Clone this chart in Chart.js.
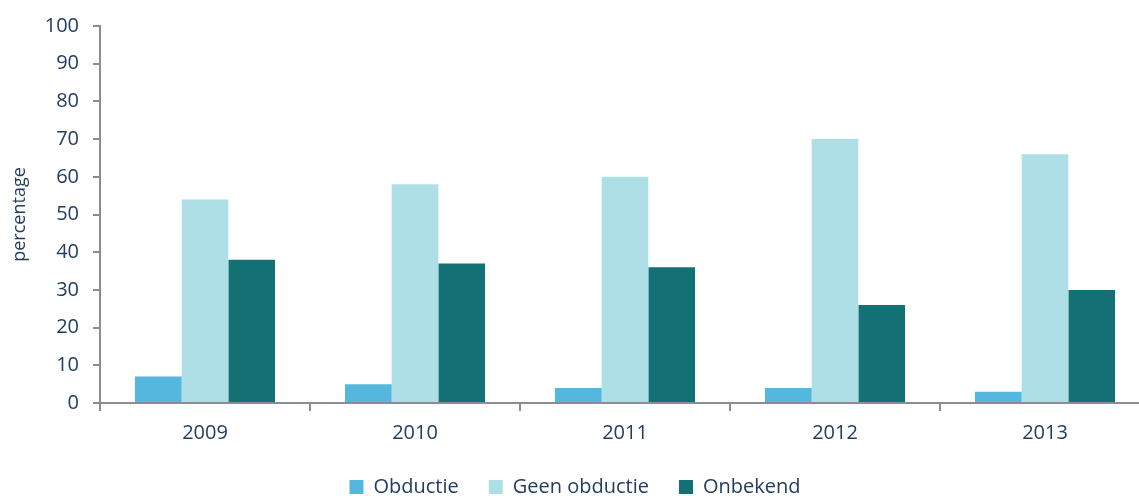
<!DOCTYPE html>
<html>
<head>
<meta charset="utf-8">
<script src="https://cdn.jsdelivr.net/npm/chart.js@4"></script>
<style>
html,body{margin:0;padding:0;overflow:hidden;background:#fff;}
#wrap{width:1150px;height:496px;}
</style>
</head>
<body>
<div id="wrap"><canvas id="c" width="1150" height="496"></canvas></div>
<script>
const categories = ['2009', '2010', '2011', '2012', '2013'];
const obductie = [7, 5, 4, 4, 3];
const geenObductie = [54, 58, 60, 70, 66];
const onbekend = [38, 37, 36, 26, 30];
const yTicks = [0, 10, 20, 30, 40, 50, 60, 70, 80, 90, 100];

const textColor = '#223d5e';
const axisColor = '#8c8c91';
const font = "'Open Sans', sans-serif";

const legendFitPlugin = {
  id: 'legendFit',
  afterInit(chart) {
    const lg = chart.legend;
    if (!lg) return;
    const orig = lg.fit;
    lg.fit = function () {
      orig.call(this);
      this.height = 49;
    };
  }
};

new Chart(document.getElementById('c'), {
  type: 'bar',
  plugins: [legendFitPlugin],
  data: {
    labels: categories,
    datasets: [
      { label: 'Obductie', data: obductie, backgroundColor: '#55b7de' },
      { label: 'Geen obductie', data: geenObductie, backgroundColor: '#aedfe6' },
      { label: 'Onbekend', data: onbekend, backgroundColor: '#137176' }
    ]
  },
  options: {
    responsive: false,
    animation: false,
    layout: { padding: { top: 25, right: 0, left: 0, bottom: 0 } },
    datasets: { bar: { categoryPercentage: 0.667, barPercentage: 1.0 } },
    plugins: {
      tooltip: { enabled: false },
      legend: {
        position: 'bottom',
        labels: {
          boxWidth: 14, boxHeight: 14, padding: 30,
          color: textColor,
          font: { family: font, size: 20 }
        }
      }
    },
    scales: {
      x: {
        afterFit: s => { s.height = 44; },
        grid: { display: true, drawOnChartArea: false, offset: true, color: axisColor, lineWidth: 2, tickLength: 8 },
        border: { display: true, color: axisColor, width: 2 },
        ticks: { color: textColor, font: { family: font, size: 20 }, padding: 10 }
      },
      y: {
        min: 0, max: 100,
        afterFit: s => { s.width = 100; },
        afterBuildTicks: s => { s.ticks = yTicks.map(v => ({ value: v })); },
        grid: { display: true, drawOnChartArea: false, color: axisColor, lineWidth: 2, tickLength: 7 },
        border: { display: true, color: axisColor, width: 2 },
        ticks: { color: textColor, font: { family: font, size: 20 }, padding: 14 },
        title: { display: true, text: 'percentage', color: textColor, font: { family: font, size: 18 }, padding: { top: 9, bottom: 0 } }
      }
    }
  }
});
</script>
</body>
</html>
